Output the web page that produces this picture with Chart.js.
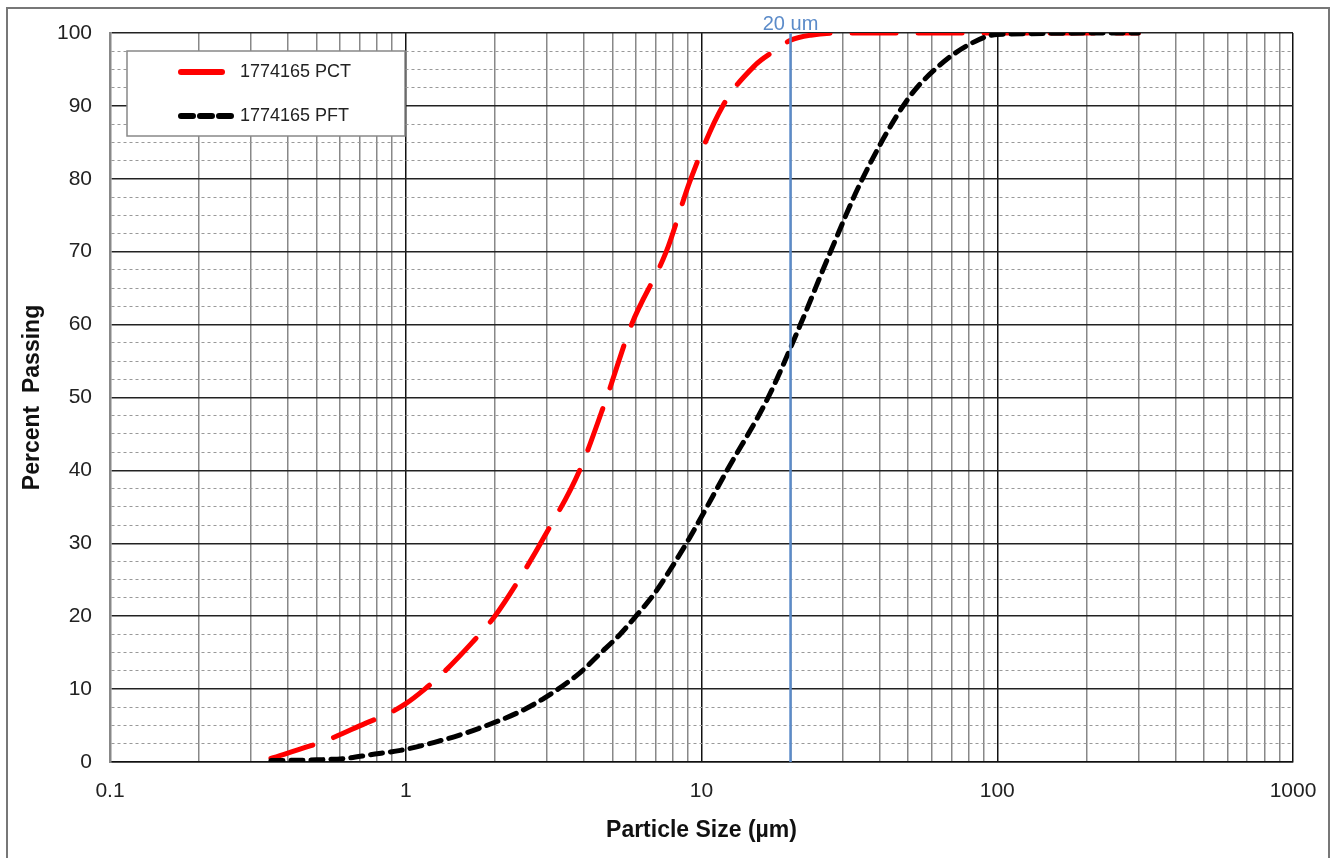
<!DOCTYPE html>
<html>
<head>
<meta charset="utf-8">
<script src="https://cdn.jsdelivr.net/npm/chart.js@4"></script>
<style>
  html, body { margin: 0; padding: 0; background: #fff; }
  #wrap { width: 1331px; height: 858px; }
</style>
</head>
<body>
<div id="wrap"><canvas id="psdChart" width="1331" height="858"></canvas></div>
<script>
// PARTICLE SIZE DISTRIBUTION
const pctLabel = '1774165 PCT';
const pctSize = [0.35, 0.475, 0.55, 0.73, 0.88, 1, 1.16, 1.32, 1.67, 2, 2.5, 2.95, 3.87, 4.78, 5.8, 7.6, 9.2, 11.8, 15.2, 17.4, 20, 23.4, 30, 100, 300];
const pctPassing = [0.5, 2.2, 3.1, 5.3, 6.7, 8, 10, 12, 16.3, 20, 26, 31, 40, 50, 60, 70, 80, 90, 95.6, 97.4, 99, 99.7, 100, 100, 100];

const pftLabel = '1774165 PFT';
const pftSize = [0.35, 0.5, 0.63, 0.76, 0.96, 1.25, 1.52, 1.82, 2.43, 2.95, 3.87, 4.52, 5.3, 6, 6.9, 7.9, 9.1, 12.2, 16.8, 21.6, 27.3, 35, 49.6, 62.7, 81, 100, 300];
const pftPassing = [0.2, 0.3, 0.5, 1, 1.6, 2.7, 3.7, 4.8, 6.9, 8.8, 12.2, 14.8, 17.5, 20, 23, 26.6, 30.7, 40, 50, 60, 70, 80, 90.8, 95.3, 98.5, 99.8, 100];

const cutSize = 20;
const cutLabel = '20 um';

const xTickValues = [];
[0.1, 1, 10, 100].forEach(d => {
    for (let m = 1; m <= 9; m++) xTickValues.push(+(d * m).toPrecision(3));
});
xTickValues.push(1000);
const xMajor = [0.1, 1, 10, 100, 1000];

const toPoints = (xs, ys) => xs.map((x, i) => ({x: x, y: ys[i]}));

const fontName = '"Liberation Sans", Arial, sans-serif';

const extras = {
    id: 'extras',
    beforeDraw(chart) {
        const ctx = chart.ctx;
        ctx.save();
        ctx.fillStyle = '#fff';
        ctx.fillRect(0, 0, chart.width, chart.height);
        ctx.strokeStyle = '#777';
        ctx.lineWidth = 2;
        ctx.strokeRect(7, 8, 1322, 870);
        ctx.restore();
    },
    afterDraw(chart) {
        const ctx = chart.ctx;
        const xs = chart.scales.x;
        const ys = chart.scales.y;
        ctx.save();
        // cut size label
        ctx.fillStyle = '#5b8bc9';
        ctx.font = '20px ' + fontName;
        ctx.textAlign = 'center';
        ctx.textBaseline = 'bottom';
        ctx.fillText(cutLabel, xs.getPixelForValue(cutSize), ys.top + 1);
        // legend box
        const lx = 127, ly = 51, lw = 278, lh = 85;
        ctx.fillStyle = '#fff';
        ctx.fillRect(lx, ly, lw, lh);
        ctx.strokeStyle = '#888';
        ctx.lineWidth = 1.5;
        ctx.strokeRect(lx, ly, lw, lh);
        const items = chart.data.datasets.filter(d => d.inLegend);
        items.forEach((d, i) => {
            const y = ly + 21 + i * 44;
            ctx.strokeStyle = d.borderColor;
            ctx.lineWidth = 6;
            ctx.lineCap = 'round';
            ctx.setLineDash(i === 0 ? [] : [12, 7]);
            ctx.beginPath();
            ctx.moveTo(181, y);
            ctx.lineTo(i === 0 ? 222 : 232, y);
            ctx.stroke();
            ctx.setLineDash([]);
            ctx.fillStyle = '#222';
            ctx.font = '18px ' + fontName;
            ctx.textAlign = 'left';
            ctx.textBaseline = 'middle';
            ctx.fillText(d.label, 240, y);
        });
        ctx.restore();
    }
};

new Chart(document.getElementById('psdChart'), {
    type: 'line',
    data: {
        datasets: [
            {
                label: pctLabel,
                data: toPoints(pctSize, pctPassing),
                borderColor: '#ff0000',
                borderWidth: 5,
                borderDash: [44, 22],
                borderCapStyle: 'round',
                cubicInterpolationMode: 'monotone',
                pointRadius: 0,
                inLegend: true,
                order: 2
            },
            {
                label: pftLabel,
                data: toPoints(pftSize, pftPassing),
                borderColor: '#000000',
                borderWidth: 5,
                borderDash: [12, 8],
                borderCapStyle: 'round',
                cubicInterpolationMode: 'monotone',
                pointRadius: 0,
                inLegend: true,
                order: 1
            },
            {
                label: cutLabel,
                data: [{x: cutSize, y: 0}, {x: cutSize, y: 100}],
                borderColor: '#5b8bc9',
                borderWidth: 2.5,
                pointRadius: 0,
                inLegend: false,
                order: 0
            }
        ]
    },
    plugins: [extras],
    options: {
        responsive: false,
        animation: false,
        layout: {padding: {left: 19, right: 38, top: 33, bottom: 14}},
        plugins: {
            legend: {display: false},
            tooltip: {enabled: false}
        },
        scales: {
            x: {
                type: 'logarithmic',
                min: 0.1,
                max: 1000,
                afterBuildTicks: scale => {
                    scale.ticks = xTickValues.map(v => ({value: v}));
                },
                afterFit: scale => {
                    scale.height = 82;
                    scale.paddingLeft = 0;
                    scale.paddingRight = 0;
                },
                ticks: {
                    autoSkip: false,
                    maxRotation: 0,
                    padding: 17,
                    color: '#222',
                    font: {family: fontName, size: 21},
                    callback: v => xMajor.includes(v) ? String(v) : ''
                },
                grid: {
                    drawTicks: false,
                    color: ctx => xMajor.includes(ctx.tick && ctx.tick.value) ? '#111' : '#888',
                    lineWidth: 1.5
                },
                border: {color: '#111', width: 1.5},
                title: {
                    display: true,
                    text: 'Particle Size (µm)',
                    color: '#111',
                    font: {family: fontName, size: 23, weight: 'bold'},
                    padding: {top: 0, bottom: 0}
                }
            },
            y: {
                min: 0,
                max: 100,
                afterBuildTicks: scale => {
                    const t = [];
                    for (let v = 0; v <= 100; v += 2.5) t.push({value: v});
                    scale.ticks = t;
                },
                afterFit: scale => { scale.width = 91; },
                ticks: {
                    autoSkip: false,
                    padding: 18,
                    color: '#222',
                    font: {family: fontName, size: 21},
                    callback: v => v % 10 === 0 ? String(v) : ''
                },
                grid: {
                    drawTicks: false,
                    color: ctx => (ctx.tick && ctx.tick.value % 10 === 0) ? '#222' : '#999',
                    lineWidth: ctx => (ctx.tick && ctx.tick.value % 10 === 0) ? 1.5 : 1
                },
                border: {
                    color: '#888',
                    width: 2.5,
                    dash: ctx => (ctx.tick && ctx.tick.value % 10 !== 0) ? [3, 3] : []
                },
                title: {
                    display: true,
                    text: 'Percent  Passing',
                    color: '#111',
                    font: {family: fontName, size: 23, weight: 'bold'},
                    padding: {top: 0, bottom: 0}
                }
            }
        }
    }
});
</script>
</body>
</html>
